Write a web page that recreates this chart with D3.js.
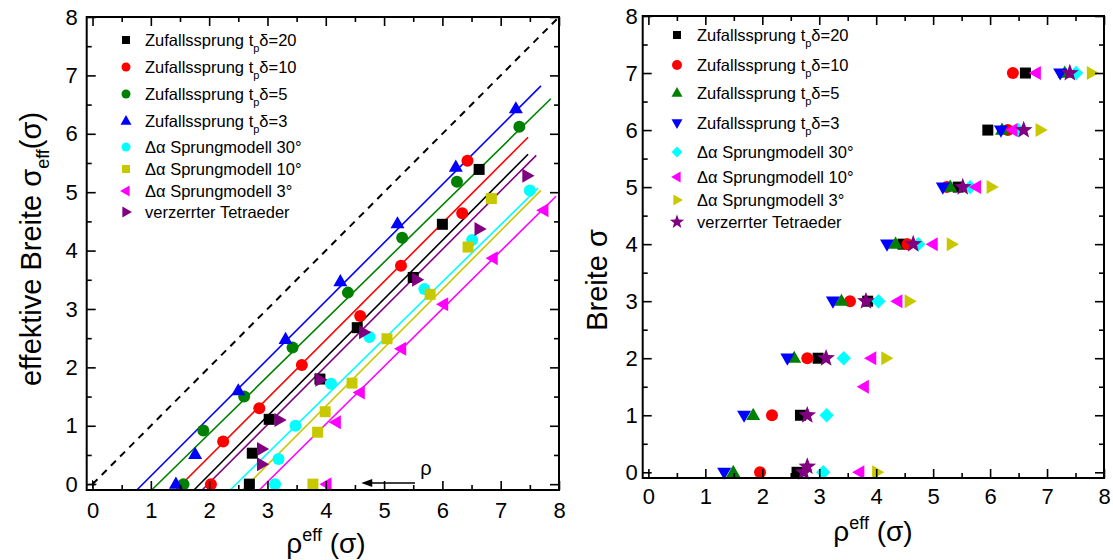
<!DOCTYPE html>
<html><head><meta charset="utf-8">
<script src="https://cdn.jsdelivr.net/npm/d3@7"></script>
<style>
body{margin:0;background:#fff}
text{font-family:"Liberation Sans",Arial,sans-serif;fill:#000}
</style>
</head><body>
<svg id="chart" width="1113" height="560"></svg>
<script>
// ---------- Left panel: effective width vs. effective distance ----------
const leftZuf20 = [[2.69,0],[2.74,0.53],[3.03,1.11],[3.90,1.80],[4.54,2.68],[5.50,3.54],[6.00,4.45],[6.63,5.39]];
const leftZuf10 = [[2.03,0],[2.24,0.73],[2.86,1.30],[3.59,2.04],[4.59,2.88],[5.29,3.74],[6.34,4.64],[6.43,5.54]];
const leftZuf5  = [[1.56,0],[1.90,0.92],[2.60,1.50],[3.43,2.34],[4.38,3.28],[5.31,4.22],[6.25,5.18],[7.32,6.12]];
const leftZuf3  = [[1.43,0],[1.76,0.51],[2.50,1.60],[3.31,2.48],[4.25,3.47],[5.23,4.46],[6.23,5.43],[7.26,6.43]];
const leftSm30  = [[3.13,0],[3.19,0.43],[3.48,1.00],[4.09,1.72],[4.75,2.52],[5.69,3.34],[6.51,4.18],[7.50,5.03]];
const leftSm10  = [[3.78,0],[3.86,0.89],[3.99,1.24],[4.45,1.73],[5.05,2.49],[5.79,3.25],[6.44,4.06],[6.84,4.89]];
const leftSm3   = [[4.02,0],[4.18,1.06],[4.59,1.57],[5.30,2.32],[6.02,3.08],[6.87,3.87],[7.74,4.69]];
const leftTetra = [[2.90,0.34],[2.90,0.60],[3.20,1.10],[3.90,1.79],[4.65,2.60],[5.56,3.50],[6.63,4.37],[7.45,5.28]];

// fitted straight lines (start, end)
const fitZuf20 = [[1.74,-0.1],[7.47,5.65]];
const fitZuf10 = [[1.43,-0.1],[7.47,5.94]];
const fitZuf5  = [[1.015,-0.1],[7.86,6.60]];
const fitZuf3  = [[0.76,-0.1],[7.69,6.82]];
const fitSm30  = [[2.36,-0.1],[7.64,5.07]];
const fitSm10  = [[2.57,-0.1],[7.69,5.03]];
const fitSm3   = [[2.86,-0.1],[7.95,4.93]];
const fitTetra = [[1.88,-0.1],[7.61,5.63]];
const identityLine = [[0,0],[8,8]];

// ---------- Right panel: width vs. effective distance ----------
const rightZuf20 = [[2.61,0],[2.67,1],[2.98,2],[3.85,3],[4.47,4],[5.44,5],[5.96,6],[6.62,7]];
const rightZuf10 = [[1.96,0],[2.17,1],[2.79,2],[3.54,3],[4.55,4],[5.24,5],[6.31,6],[6.40,7]];
const rightZuf5  = [[1.49,0],[1.84,1],[2.56,2],[3.39,3],[4.34,4],[5.30,5],[6.21,6],[7.31,7]];
const rightZuf3  = [[1.33,0],[1.68,1],[2.44,2],[3.24,3],[4.19,4],[5.17,5],[6.19,6],[7.23,7]];
const rightSm30  = [[3.07,0],[3.13,1],[3.43,2],[4.04,3],[4.74,4],[5.65,5],[6.49,6],[7.51,7]];
const rightSm10  = [[3.71,0],[3.79,1.5],[3.92,2],[4.38,3],[5.00,4],[5.76,5],[6.40,6],[6.81,7]];
const rightSm3   = [[4.01,0],[4.17,2],[4.58,3],[5.32,4],[6.02,5],[6.88,6],[7.78,7]];
const rightTetra = [[2.73,0],[2.79,0.1],[2.79,1],[3.12,2],[3.82,3],[4.65,4],[5.52,5],[6.59,6],[7.40,7]];

const axisTicks = [0,1,2,3,4,5,6,7,8];
const minorTicks = [0.5,1.5,2.5,3.5,4.5,5.5,6.5,7.5];

const seriesNames = ["Zufallssprung t|p|\u03b4=20","Zufallssprung t|p|\u03b4=10","Zufallssprung t|p|\u03b4=5","Zufallssprung t|p|\u03b4=3",
  "\u0394\u03b1 Sprungmodell 30\u00b0","\u0394\u03b1 Sprungmodell 10\u00b0","\u0394\u03b1 Sprungmodell 3\u00b0","verzerrter Tetraeder"];
const leftColors  = ["#000000","#ff0000","#008000","#0000ff","#00ffff","#c8c800","#ff00ff","#800080"];
const rightColors = ["#000000","#ff0000","#008000","#0000ff","#00ffff","#ff00ff","#c8c800","#800080"];
const leftShapes = ["square","circle","circle","up","circle","square","left","right"];
const rightShapes = ["square","circle","up","down","diamond","left","right","star"];

const leftSeries = [leftZuf20,leftZuf10,leftZuf5,leftZuf3,leftSm30,leftSm10,leftSm3,leftTetra];
const leftFits = [fitZuf20,fitZuf10,fitZuf5,fitZuf3,fitSm30,fitSm10,fitSm3,fitTetra];
const rightSeries = [rightZuf20,rightZuf10,rightZuf5,rightZuf3,rightSm30,rightSm10,rightSm3,rightTetra];

// ---------- marker shapes ----------
function shapePath(type, s){
  const h = s*0.87;
  switch(type){
    case "square": return `M${-s/2},${-s/2}h${s}v${s}h${-s}Z`;
    case "circle": { const r=s/2; return `M${r},0A${r},${r} 0 1,1 ${-r},0A${r},${r} 0 1,1 ${r},0Z`; }
    case "up": return `M0,${-h*0.62}L${s/2},${h*0.38}L${-s/2},${h*0.38}Z`;
    case "down": return `M0,${h*0.62}L${s/2},${-h*0.38}L${-s/2},${-h*0.38}Z`;
    case "left": return `M${-h*0.62},0L${h*0.38},${-s/2}L${h*0.38},${s/2}Z`;
    case "right": return `M${h*0.62},0L${-h*0.38},${-s/2}L${-h*0.38},${s/2}Z`;
    case "diamond": return `M0,${-s*0.6}L${s*0.6},0L0,${s*0.6}L${-s*0.6},0Z`;
    case "star": {
      let p=""; const R=s*0.62, r=R*0.42;
      for(let i=0;i<10;i++){const a=-Math.PI/2+i*Math.PI/5; const rr=i%2?r:R; p+=(i?"L":"M")+(rr*Math.cos(a)).toFixed(2)+","+(rr*Math.sin(a)).toFixed(2);}
      return p+"Z";
    }
  }
}
const markerSize = {square:11,circle:12,up:14,down:14,left:14,right:14,diamond:12,star:15};

const svg = d3.select("#chart");

function drawFrame(g, x, y, labelPadX, labelPadY){
  const [xa,xb] = x.range(), [ya,yb] = y.range();
  // major/minor ticks on all four sides, pointing inward
  const addAxis = (gen, tf, labels, pad) => {
    const maj = g.append("g").attr("transform", tf)
      .call(gen.tickValues(axisTicks).tickSize(-9).tickPadding(pad).tickFormat(labels ? d3.format("d") : () => ""));
    maj.select(".domain").remove();
    maj.selectAll("line").attr("stroke-width",1.6);
    maj.selectAll("text").attr("font-size",22).attr("fill","#000");
    const mi = g.append("g").attr("transform", tf)
      .call(gen.tickValues(minorTicks).tickSize(-5).tickFormat(() => ""));
    mi.select(".domain").remove();
    mi.selectAll("line").attr("stroke-width",1.6);
  };
  addAxis(d3.axisBottom(x), `translate(0,${ya})`, true, labelPadX);
  addAxis(d3.axisTop(x), `translate(0,${yb})`, false, 0);
  addAxis(d3.axisLeft(y), `translate(${xa},0)`, true, labelPadY);
  addAxis(d3.axisRight(y), `translate(${xb},0)`, false, 0);
  g.append("rect").attr("x",xa).attr("y",yb).attr("width",xb-xa).attr("height",ya-yb)
    .attr("fill","none").attr("stroke","#000").attr("stroke-width",2);
}

function drawLegend(g, names, shapes, cols, x0, tx, rows, sz){
  names.forEach((nm,i) => {
    g.append("path").attr("d", shapePath(shapes[i], sz[shapes[i]]))
      .attr("transform",`translate(${x0},${rows[i]})`).attr("fill",cols[i]);
    const t = g.append("text").attr("x",tx).attr("y",rows[i]+6).attr("font-size",16.5);
    const parts = nm.split("|");
    if(parts.length===3){
      t.append("tspan").text(parts[0]);
      t.append("tspan").attr("font-size",11).attr("dy",6).text(parts[1]);
      t.append("tspan").attr("dy",-6).text(parts[2]);
    } else t.text(nm);
  });
}

function drawMarks(g, x, y, series, shapes, cols){
  series.forEach((pts,i) => {
    g.selectAll(null).data(pts).enter().append("path")
      .attr("d", shapePath(shapes[i], markerSize[shapes[i]]))
      .attr("transform", d => `translate(${x(d[0])},${y(d[1])})`)
      .attr("fill", cols[i]);
  });
}

// ----- left panel -----
const xL = d3.scaleLinear().domain([-0.1,8]).range([86.7,559]);
const yL = d3.scaleLinear().domain([-0.1,8]).range([490,17]);
const gL = svg.append("g");
const line = d3.line().x(d => xL(d[0])).y(d => yL(d[1]));
gL.append("path").attr("d", line(identityLine)).attr("fill","none")
  .attr("stroke","#000").attr("stroke-width",2).attr("stroke-dasharray","7,6");
gL.append("path").attr("d","M-4,0H4M0,-4V4").attr("transform",`translate(${xL(0)},${yL(0)})`)
  .attr("stroke","#000").attr("stroke-width",1);
leftFits.forEach((f,i) => {
  gL.append("path").attr("d", line(f)).attr("fill","none").attr("stroke",leftColors[i]).attr("stroke-width",1.6);
});
drawMarks(gL, xL, yL, leftSeries, leftShapes, leftColors);
// arrow marking the direction of rho
const arrowFrom = [5.53,0.02], arrowTo = [4.66,0.02];
gL.append("path").attr("d",`M${xL(arrowFrom[0])},${yL(arrowFrom[1])}H${xL(arrowTo[0])}`)
  .attr("stroke","#000").attr("stroke-width",1.6);
gL.append("path").attr("d",`M${xL(arrowTo[0])-3},${yL(arrowTo[1])}l11,-4v8Z`).attr("fill","#000");
gL.append("text").attr("x",xL(5.62)).attr("y",yL(0.16)).attr("font-size",20).text("\u03c1");
drawFrame(gL, xL, yL, 12, 9);
drawLegend(gL, seriesNames, leftShapes, leftColors, 126, 145, [40,67,94,121,147,169,191,212],
  {square:8,circle:9,up:11,left:11,right:11});

// ----- right panel -----
const xR = d3.scaleLinear().domain([-0.1,8]).range([642.7,1104]);
const yR = d3.scaleLinear().domain([-0.1,8]).range([478,16]);
const gR = svg.append("g");
drawMarks(gR, xR, yR, rightSeries, rightShapes, rightColors);
drawFrame(gR, xR, yR, 10, 5);
drawLegend(gR, seriesNames, rightShapes, rightColors, 677, 697, [35,65,93,123,152,177,200,222],
  {square:8,circle:10,up:11,down:11,diamond:9,left:11,right:11,star:12});

// ----- axis titles -----
function xTitle(cx, cy){
  const t = svg.append("text").attr("x",cx).attr("y",cy).attr("text-anchor","middle").attr("font-size",28);
  t.append("tspan").text("\u03c1");
  t.append("tspan").attr("font-size",18).attr("dy",-12).text("eff");
  t.append("tspan").attr("dy",12).text(" (\u03c3)");
}
xTitle(326, 553);
xTitle(873, 541);

const yt1 = svg.append("text").attr("transform","translate(41,249) rotate(-90)")
  .attr("text-anchor","middle").attr("font-size",29);
yt1.append("tspan").text("effektive Breite \u03c3");
yt1.append("tspan").attr("font-size",18).attr("dy",8).text("eff");
yt1.append("tspan").attr("dy",-8).text("(\u03c3)");

svg.append("text").attr("transform","translate(607,280) rotate(-90)")
  .attr("text-anchor","middle").attr("font-size",29).text("Breite \u03c3");
</script>
</body></html>
